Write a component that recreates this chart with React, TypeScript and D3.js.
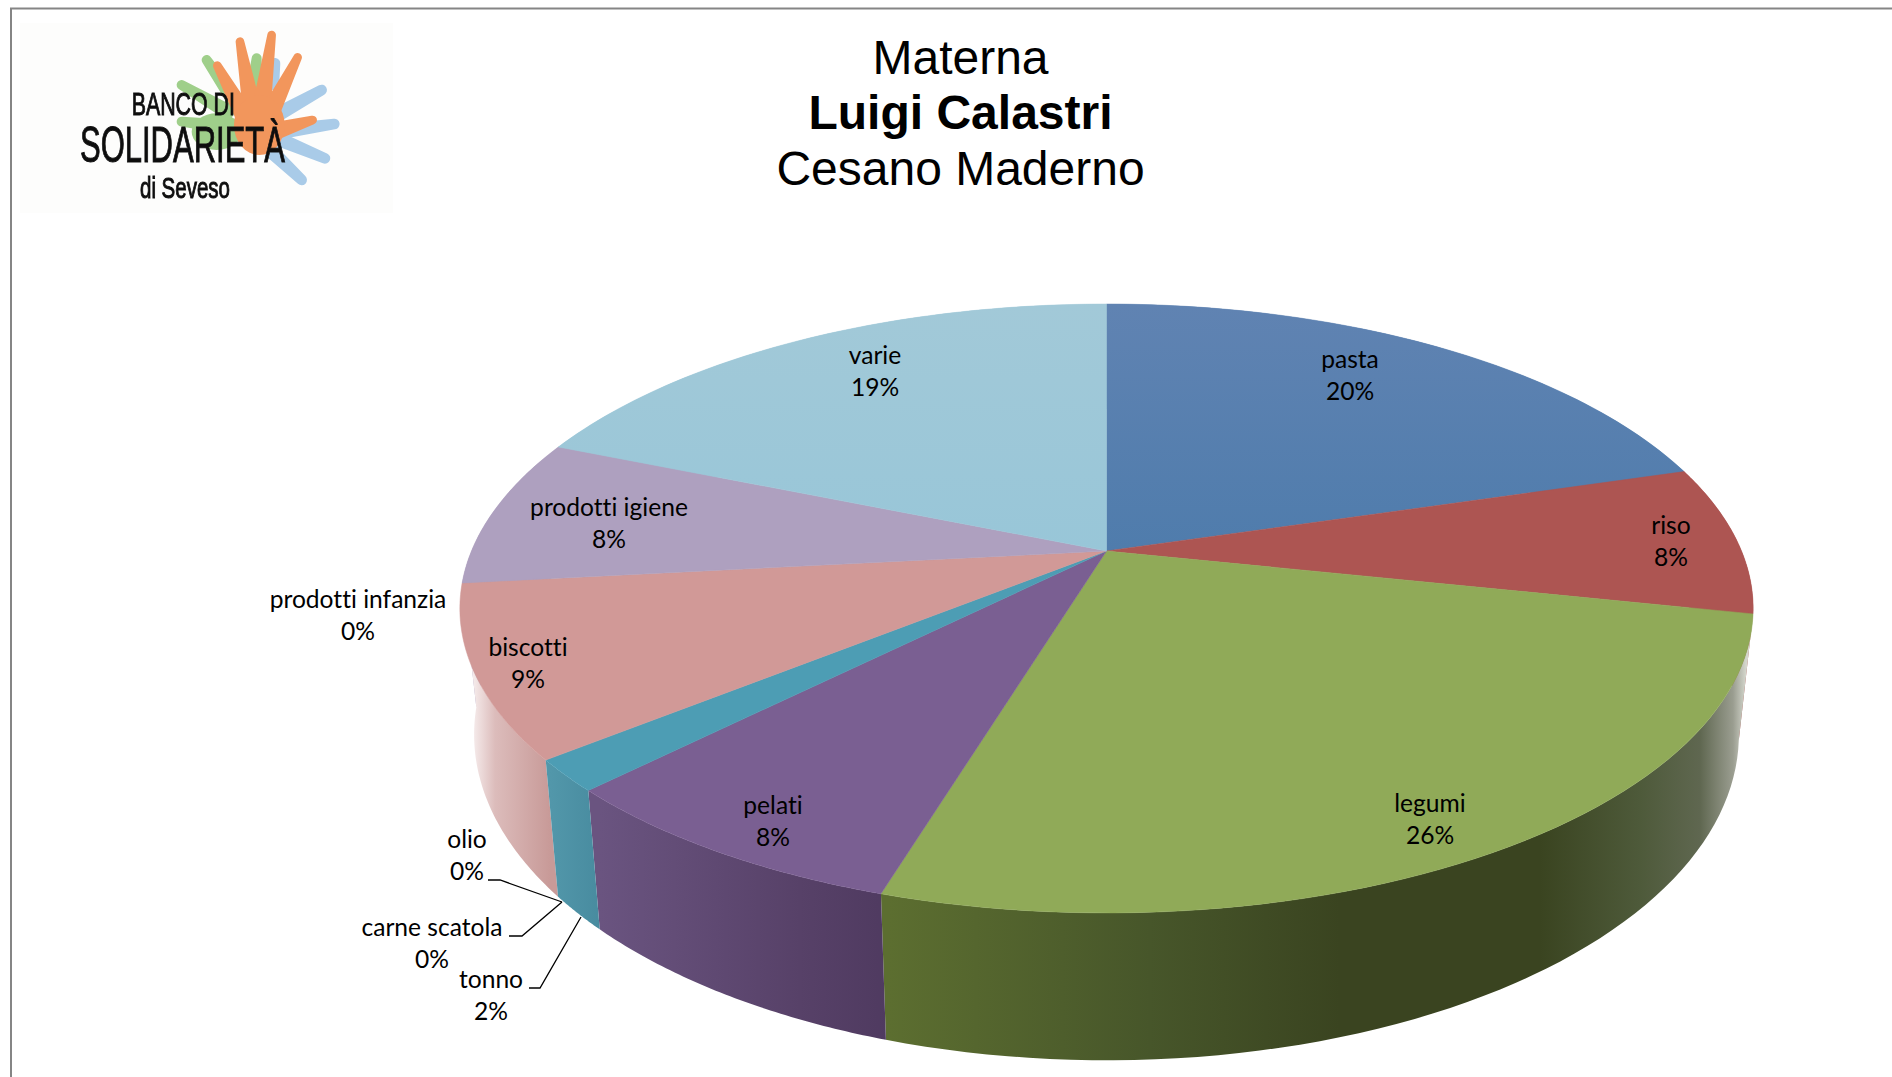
import React from "react";
import * as d3 from "d3";

const categories = ["pasta", "riso", "legumi", "pelati", "tonno", "carne scatola", "olio", "biscotti", "prodotti infanzia", "prodotti igiene", "varie"];
const shares = [20.4, 7.9, 26.4, 7.8, 1.7, 0, 0, 9.1, 0, 7.9, 18.8];
const percentLabels = ["20%", "8%", "26%", "8%", "2%", "0%", "0%", "9%", "0%", "8%", "19%"];
const titleLines = ["Materna", "Luigi Calastri", "Cesano Maderno"];

const topColors = ["#5880b0", "#ad5552", "#90aa58", "#7a5f92", "#4d9db4", "#4d9db4", "#4d9db4", "#d19997", "#d19997", "#aea0bf", "#9dc7d7"];
const topGradients: Record<string, [string, string]> = {
  pasta: ["#6083b2", "#4f7cac"],
  varie: ["#a2c9d8", "#98c6d8"],
};
const wallStops: Record<string, [number, string][]> = {
  legumi: [[889, "#5c6e30"], [1150, "#47562a"], [1340, "#3a4420"], [1540, "#3a4420"], [1640, "#4e5a3a"], [1700, "#5f6750"], [1733, "#9a9d90"], [1746, "#d4d6cc"]],
  pelati: [[600, "#6a5480"], [800, "#574168"], [890, "#4f3a60"]],
  tonno: [[550, "#5297aa"], [605, "#478a9e"]],
  biscotti: [[470, "#f9f2f2"], [495, "#dcbcbb"], [550, "#c89a98"]],
};

const labelAnchors: Record<string, [number, number]> = {
  pasta: [1350, 368], riso: [1671, 534], legumi: [1430, 812], pelati: [773, 814],
  tonno: [491, 988], "carne scatola": [432, 936], olio: [467, 848], biscotti: [528, 656],
  "prodotti infanzia": [358, 608], "prodotti igiene": [609, 516], varie: [875, 364],
};
const leaders: [number, number][][] = [
  [[488, 880], [500, 880], [562, 902]],
  [[509, 936], [522, 936], [562, 902]],
  [[529, 988], [540, 988], [581, 917]],
];

// perspective disc
const CX = 1106.5, CY = 551, A = 635, B = 293.6, K = 0.1888, DEPTH = 122, BOTTOM_X = 0.978, BOTTOM_Y = 1.07;
const proj = (t: number): [number, number] => {
  const w = 1 + K * Math.cos(t);
  return [A * Math.sin(t) / w, -B * Math.cos(t) / w];
};
const topPt = (t: number): [number, number] => { const [x, y] = proj(t); return [CX + x, CY + y]; };
const botPt = (t: number): [number, number] => { const [x, y] = proj(t); return [CX + x * BOTTOM_X, CY + y * BOTTOM_Y + DEPTH]; };
const samples = (a: number, b: number) => d3.range(0, 61).map((i) => a + ((b - a) * i) / 60);
const line = d3.line<[number, number]>();

const arcs = d3.pie<number>().sort(null).startAngle(0).endAngle(2 * Math.PI)(shares);
const wallOrder = ["pasta", "varie", "prodotti igiene", "riso", "biscotti", "legumi", "pelati", "tonno"];

function finger(d: number[], wt: number, wb: number) {
  const [x1, y1, x2, y2] = d;
  const len = Math.hypot(x2 - x1, y2 - y1);
  const nx = -(y2 - y1) / len, ny = (x2 - x1) / len;
  const a = [x1 + (nx * wt) / 2, y1 + (ny * wt) / 2];
  const b = [x2 + (nx * wb) / 2, y2 + (ny * wb) / 2];
  const c = [x2 - (nx * wb) / 2, y2 - (ny * wb) / 2];
  const e = [x1 - (nx * wt) / 2, y1 - (ny * wt) / 2];
  return `M${a}L${b}L${c}L${e}A${wt / 2} ${wt / 2} 0 0 0 ${a}Z`;
}

function Logo() {
  const orange = [[720, 125, 755, 320], [815, 105, 785, 320], [893, 172, 815, 330], [652, 197, 730, 340], [938, 360, 820, 395]];
  const green = [[620, 180, 710, 310], [545, 255, 700, 345], [545, 365, 720, 385], [770, 175, 762, 270]];
  const blue = [[965, 270, 830, 345], [1003, 372, 860, 392], [975, 475, 830, 415], [905, 540, 810, 450], [825, 190, 815, 270]];
  const draw = (s: number[][], c: string, wt: number, wb: number) =>
    s.map((d, i) => <path key={i} d={finger(d, wt, wb)} fill={c} />);
  const font = "'Liberation Sans Narrow','Liberation Sans',sans-serif";
  return (
    <g filter="url(#logoBlur)">
      <rect x={20} y={23} width={373} height={190} fill="#fdfdfc" />
      <g transform="scale(0.3333)">
        {draw(blue, "#a9cbe8", 32, 44)}
        {draw(green, "#9fcf8a", 30, 48)}
        <ellipse cx={650} cy={395} rx={75} ry={55} fill="#9fcf8a" />
        {draw(orange, "#f2965c", 26, 56)}
        <ellipse cx={778} cy={375} rx={76} ry={90} fill="#f2965c" />
        <g fill="#111" stroke="#111" strokeWidth={3}>
          <text x={395} y={345} fontFamily={font} fontSize={96} textLength={310} lengthAdjust="spacingAndGlyphs">BANCO DI</text>
          <text x={240} y={485} fontFamily={font} fontSize={150} textLength={615} lengthAdjust="spacingAndGlyphs">SOLIDARIETÀ</text>
          <text x={420} y={595} fontFamily={font} fontSize={88} textLength={270} lengthAdjust="spacingAndGlyphs">di Seveso</text>
        </g>
      </g>
    </g>
  );
}

export default function App() {
  const labelFont = "Lato, 'Open Sans', sans-serif";
  const topFill = (i: number) => (topGradients[categories[i]] ? `url(#top-${i})` : topColors[i]);
  return (
    <svg width={1892} height={1077} viewBox="0 0 1892 1077" style={{ position: "fixed", left: 0, top: 0, background: "#fff" }}>
      <defs>
        <filter id="logoBlur"><feGaussianBlur stdDeviation="0.6" /></filter>
        {Object.entries(wallStops).map(([name, stops]) => {
          const x0 = stops[0][0], x1 = stops[stops.length - 1][0];
          return (
            <linearGradient key={name} id={`wall-${name}`} gradientUnits="userSpaceOnUse" x1={x0} x2={x1} y1={0} y2={0}>
              {stops.map(([x, c]) => <stop key={x} offset={(x - x0) / (x1 - x0)} stopColor={c} />)}
            </linearGradient>
          );
        })}
        {categories.map((c, i) =>
          topGradients[c] ? (
            <linearGradient key={c} id={`top-${i}`} gradientUnits="userSpaceOnUse" x1={0} x2={0} y1={CY - 247} y2={CY}>
              <stop offset={0} stopColor={topGradients[c][0]} />
              <stop offset={1} stopColor={topGradients[c][1]} />
            </linearGradient>
          ) : null
        )}
      </defs>

      <path d="M1892 8.5H11V1077" fill="none" stroke="#858585" strokeWidth={2} />
      <Logo />

      {titleLines.map((t, i) => (
        <text key={t} x={960.5} y={74 + i * 55.5 - (i === 1 ? 1 : 0)} textAnchor="middle" fontFamily="'Liberation Sans', Arial, sans-serif"
          fontSize={48} fontWeight={i === 1 ? 700 : 400} fill="#000">{t}</text>
      ))}

      {wallOrder.map((name) => {
        const i = categories.indexOf(name);
        const a = arcs[i];
        const pts = [...samples(a.startAngle, a.endAngle).map(topPt), ...samples(a.startAngle, a.endAngle).reverse().map(botPt)];
        const fill = wallStops[name] ? `url(#wall-${name})` : topColors[i];
        return <path key={name} d={line(pts) + "Z"} fill={fill} />;
      })}

      {arcs.map((a, i) =>
        a.endAngle > a.startAngle ? (
          <path key={categories[i]} d={line([[CX, CY], ...samples(a.startAngle, a.endAngle).map(topPt)]) + "Z"}
            fill={topFill(i)} stroke={topFill(i)} strokeWidth={0.5} />
        ) : null
      )}

      {leaders.map((l, i) => <path key={i} d={line(l)!} fill="none" stroke="#000" strokeWidth={1.3} />)}

      {categories.map((c, i) => {
        const [x, y] = labelAnchors[c];
        return (
          <text key={c} textAnchor="middle" fontFamily={labelFont} fontSize={24.6} fill="#000" style={{ fontVariantLigatures: "none" }}>
            <tspan x={x} y={y}>{c}</tspan>
            <tspan x={x} y={y + 31.6}>{percentLabels[i]}</tspan>
          </text>
        );
      })}
    </svg>
  );
}
